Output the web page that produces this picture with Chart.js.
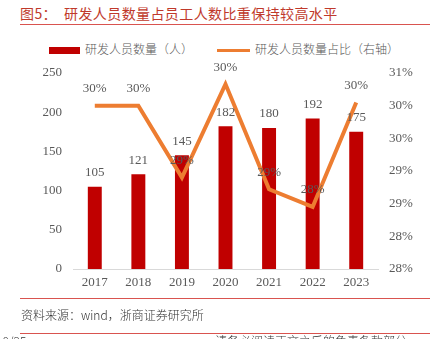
<!DOCTYPE html>
<html>
<head>
<meta charset="utf-8">
<script src="https://cdn.jsdelivr.net/npm/chart.js@4.4.1/dist/chart.umd.min.js"></script>
<style>
  html, body { margin: 0; padding: 0; background: #fff; }
  body { width: 433px; height: 339px; position: relative; overflow: hidden; font-family: "Noto Sans CJK SC", sans-serif; font-weight: 300; }
  #chart { position: absolute; left: 0; top: 0; }
  .title { position: absolute; left: 20px; top: 3px; font-size: 14px; color: #c0392b; font-weight: 400; letter-spacing: 0.4px; white-space: nowrap; }
  .rule { position: absolute; left: 20px; width: 410px; height: 1px; background: #d9534f; }
  .legend { position: absolute; top: 40px; font-size: 12px; color: #595959; white-space: nowrap; }
  .legend i { display: inline-block; vertical-align: middle; margin-right: 5px; }
  .src { position: absolute; left: 21px; top: 306px; font-size: 12px; color: #333; white-space: nowrap; }
  .foot { position: absolute; top: 332px; font-size: 12px; color: #333; white-space: nowrap; }
</style>
</head>
<body>
<div class="title">图5：&nbsp;&nbsp;研发人员数量占员工人数比重保持较高水平</div>
<div class="rule" style="top:24px"></div>
<div class="legend" style="left:49px"><i style="width:31px;height:7px;background:#c00000"></i>研发人员数量（人）</div>
<div class="legend" style="left:217px"><i style="width:33px;height:3px;background:#ed7d31"></i>研发人员数量占比（右轴）</div>
<canvas id="chart" width="433" height="339"></canvas>
<div class="rule" style="top:298px"></div>
<div class="src">资料来源：wind，浙商证券研究所</div>
<div class="rule" style="top:333px"></div>
<div class="foot" style="left:-4px">10/25</div>
<div class="foot" style="left:215px">请务必阅读正文之后的免责条款部分</div>
<script>
// 研发人员数量及占比，2017-2023
const years = ['2017', '2018', '2019', '2020', '2021', '2022', '2023'];
const staffCount = [105, 121, 145, 182, 180, 192, 175];
const staffShare = [30.0, 30.0, 28.9, 30.33, 28.72, 28.45, 30.05];

const serif = '"Liberation Serif", "Times New Roman", serif';
const grey = '#595959';

// value labels above bars and line points
const valueLabels = {
  id: 'valueLabels',
  afterDatasetsDraw(chart) {
    const ctx = chart.ctx;
    ctx.save();
    ctx.font = '13px ' + serif;
    ctx.fillStyle = grey;
    ctx.textAlign = 'center';
    ctx.textBaseline = 'middle';
    chart.data.datasets.forEach((ds, i) => {
      chart.getDatasetMeta(i).data.forEach((el, j) => {
        const v = ds.data[j];
        const txt = ds.type === 'line' ? Math.round(v) + '%' : String(v);
        ctx.fillText(txt, el.x, el.y - (ds.type === 'line' ? 17 : 14));
      });
    });
    ctx.restore();
  }
};

new Chart(document.getElementById('chart'), {
  data: {
    labels: years,
    datasets: [
      { type: 'line', label: '研发人员数量占比（右轴）', data: staffShare, yAxisID: 'y1', order: 0,
        borderColor: '#ed7d31', borderWidth: 4, pointRadius: 0, tension: 0, fill: false },
      { type: 'bar', label: '研发人员数量（人）', data: staffCount, yAxisID: 'y', order: 1,
        backgroundColor: '#c00000', categoryPercentage: 1, barPercentage: 0.32 }
    ]
  },
  options: {
    responsive: false,
    animation: false,
    layout: { padding: { top: 73, bottom: 39, left: 0, right: 0 } },
    plugins: { legend: { display: false }, tooltip: { enabled: false } },
    scales: {
      x: {
        grid: { display: false, drawTicks: false },
        border: { display: true, color: '#d9d9d9', width: 1 },
        ticks: { font: { family: serif, size: 13 }, color: grey, padding: 6 },
        afterFit(s) { s.height = 31; }
      },
      y: {
        position: 'left', min: 0, max: 250,
        grid: { display: false }, border: { display: false },
        ticks: { stepSize: 50, font: { family: serif, size: 13 }, color: grey, padding: 3 },
        afterFit(s) { s.width = 73; }
      },
      y1: {
        position: 'right', min: 27.5, max: 30.5,
        grid: { display: false }, border: { display: false },
        ticks: { stepSize: 0.5, font: { family: serif, size: 13 }, color: grey, padding: 3,
          callback: v => Math.round(v) + '%' },
        afterFit(s) { s.width = 55; }
      }
    }
  },
  plugins: [valueLabels]
});
</script>
</body>
</html>
